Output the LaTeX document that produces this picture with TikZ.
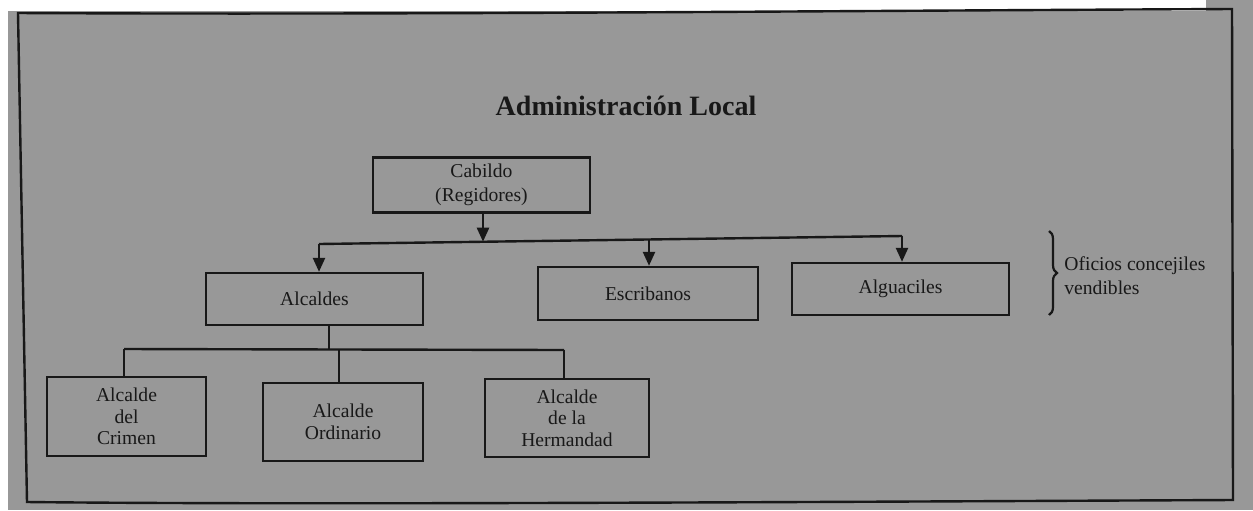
\documentclass[tikz,border=0pt]{standalone}
\usepackage{fontspec}
\setmainfont{Liberation Serif}
\usetikzlibrary{arrows.meta,decorations.pathreplacing}
\definecolor{pagegray}{RGB}{152,152,152}
\definecolor{ink}{RGB}{24,24,24}
\begin{document}
\begin{tikzpicture}[x=0.5pt,y=-0.5pt,
  wh/.style 2 args={minimum width=#1*0.5pt,minimum height=#2*0.5pt},
  box/.style={draw=ink, line width=1.2pt, text=ink, inner sep=0pt, align=center,
    font=\fontsize{9.8}{10.8}\selectfont},
  link/.style={draw=ink, line width=1.2pt},
  arr/.style={link, -{Triangle[length=7pt,width=6pt]}},
  lbl/.style={text=ink, inner sep=0pt}]
% page background
\useasboundingbox (0,0) rectangle (1253,510);
\fill[pagegray] (0,0) rectangle (1253,510);
\fill[white] (0,0) rectangle (1206,11);
\fill[white] (0,0) rectangle (8,510);
% frame
\draw[ink, line width=1.2pt] (18,13) .. controls (400,15) and (800,11) .. (1232,9)
  -- (1233,500) .. controls (800,502) and (300,505) .. (27,502) -- cycle;
% title
\node[lbl, anchor=base, font=\bfseries\fontsize{14}{16}\selectfont] (title) at (626,115) {Administración Local};
% boxes
\node[box, wh={217}{55}, font=\fontsize{9.8}{12}\selectfont] (cab) at (481.5,185) {Cabildo\\(Regidores)};
\node[box, wh={217}{52}] (alc) at (314.5,299) {Alcaldes};
\node[box, wh={220}{53}] (esc) at (648,293.5) {Escribanos};
\node[box, wh={217}{52}] (alg) at (900.5,289) {Alguaciles};
\node[box, wh={159}{79}] (cri) at (126.5,416.5) {Alcalde\\del\\Crimen};
\node[box, wh={160}{78}] (ord) at (343,422) {Alcalde\\Ordinario};
\node[box, wh={164}{78}] (her) at (567,418) {Alcalde\\de la\\Hermandad};
% upper bus
\coordinate (b1) at (319,244);
\coordinate (bc) at (483,241.7);
\coordinate (b3) at (649,239.5);
\coordinate (b4) at (902,236);
\draw[arr] (cab.south -| bc) -- (bc);
\draw[link] (b1) -- (b4);
\draw[arr] (b1) -- (b1 |- alc.north);
\draw[arr] (b3) -- (b3 |- esc.north);
\draw[arr] (b4) -- (b4 |- alg.north);
% lower bus
\coordinate (s0) at (329,350);
\coordinate (s1) at (124,349);
\coordinate (s2) at (339,350);
\coordinate (s3) at (564,350);
\draw[link] (alc.south -| s0) -- (s0);
\draw[link] (s1) -- (s3);
\draw[link] (s1) -- (s1 |- cri.north);
\draw[link] (s2) -- (s2 |- ord.north);
\draw[link] (s3) -- (s3 |- her.north);
% brace and label
\coordinate (bt) at (1049,231);
\coordinate (bb) at (1049,315);
\draw[ink, line width=1.1pt, decorate, decoration={brace, amplitude=4pt}] (bt) -- (bb);
\node[lbl, anchor=west, align=left, font=\fontsize{9.8}{12}\selectfont] (ofi) at (1064,276) {Oficios concejiles\\vendibles};
\end{tikzpicture}
\end{document}
